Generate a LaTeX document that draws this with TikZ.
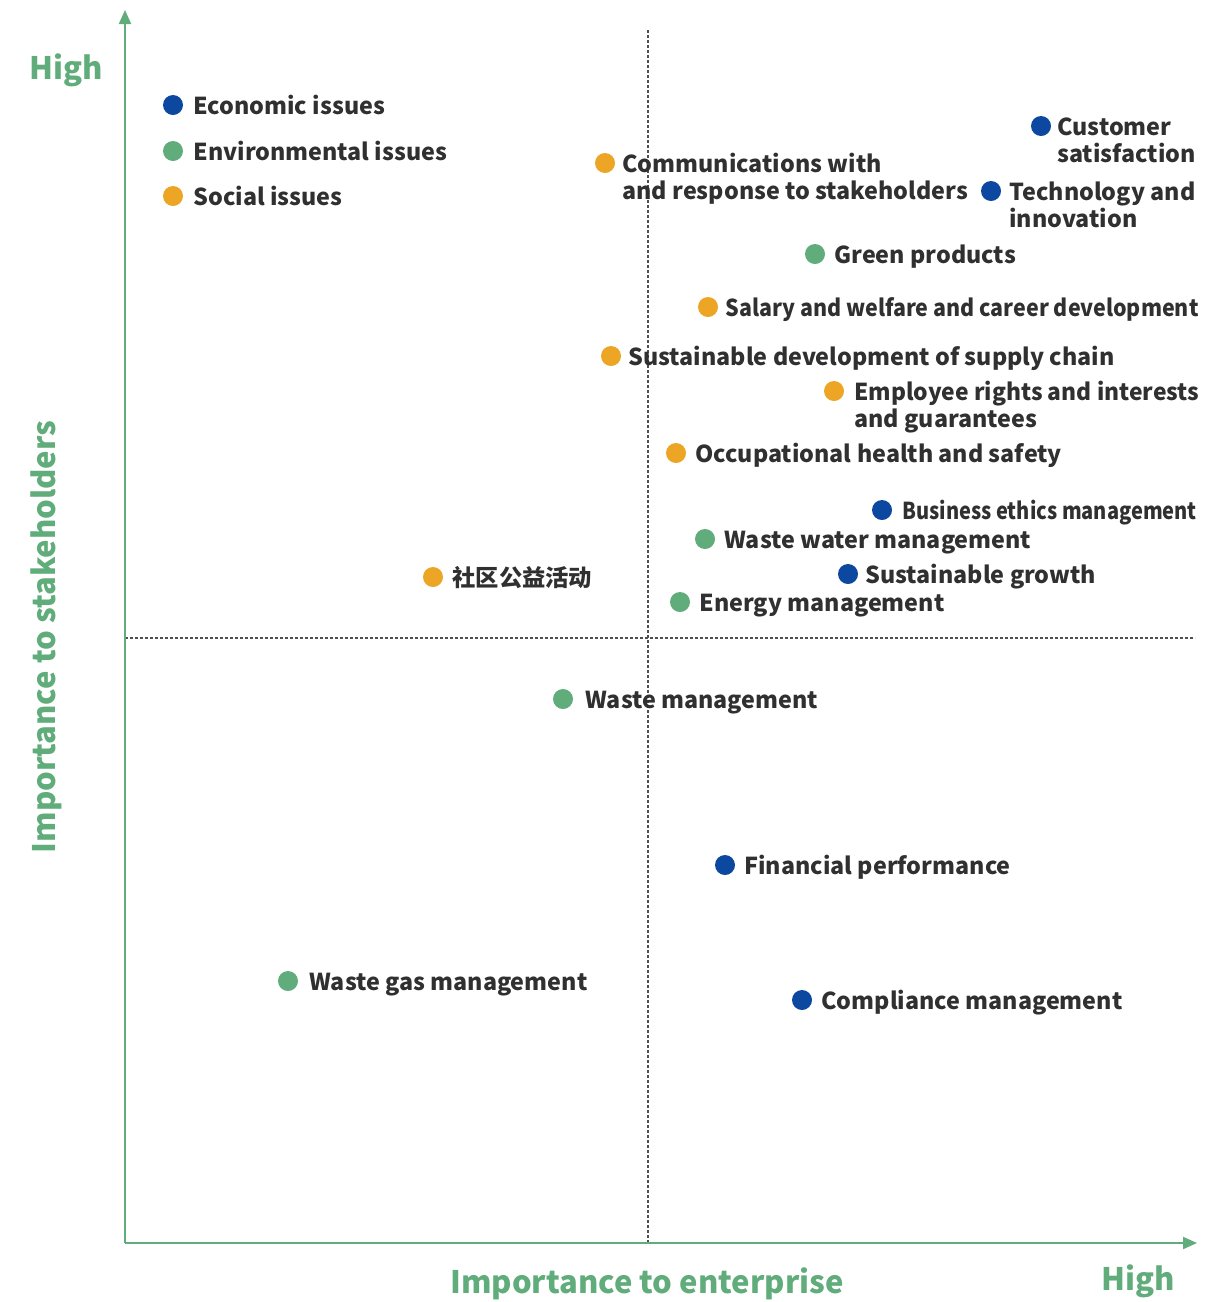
\documentclass[tikz,border=0pt]{standalone}
\usepackage{fontspec}
\setmainfont{Noto Sans CJK SC}
\usetikzlibrary{positioning,arrows.meta}

\definecolor{axisgreen}{RGB}{96,172,122}
\definecolor{ecoblue}{RGB}{12,72,160}
\definecolor{envgreen}{RGB}{96,172,122}
\definecolor{socorange}{RGB}{236,165,36}
\definecolor{labelgray}{RGB}{48,48,48}

\begin{document}
\begin{tikzpicture}
[
    x = 1pt, y = -1pt,
    dot/.style = {circle, minimum size = 20pt, inner sep = 0},
    eco/.style = {dot, fill = ecoblue},
    env/.style = {dot, fill = envgreen},
    soc/.style = {dot, fill = socorange},
    issue/.style = {anchor = west, inner sep = 0, text = labelgray, align = left,
        text height = 17pt, text depth = 5pt, yshift = -3pt,
        font = \fontsize{23.3}{27}\selectfont\bfseries},
    twolines/.style = {text height = 44pt, yshift = -13.5pt},
    axislabel/.style = {text = axisgreen, inner sep = 0, font = \fontsize{31}{36}\selectfont\bfseries},
    axis/.style = {draw = axisgreen, line width = 2pt, -{Triangle[length = 14pt, width = 12pt]}},
    split/.style = {draw = labelgray!85, line width = 1.1pt, dash pattern = on 3pt off 2pt}
]
\useasboundingbox (0,0) rectangle (1229,1302);

% axes and quadrant lines
\coordinate (origin) at (125,1243);
\coordinate (ytop) at (125,10);
\coordinate (xend) at (1197,1243);
\coordinate (vtop) at (648,30);
\coordinate (vbot) at (648,1243);
\coordinate (hleft) at (125,638);
\coordinate (hright) at (1195,638);
\draw [split] (vtop) -- (vbot);
\draw [split] (hleft) -- (hright);
\draw [axis] (origin) -- (ytop);
\draw [axis] (origin) -- (xend);

\node [axislabel] (yhigh) at (66,70) {High};
\node [axislabel, rotate = 90] (ytitle) at (46,637) {Importance to stakeholders};
\node [axislabel] (xtitle) at (647,1284) {Importance to enterprise};
\node [axislabel] (xhigh) at (1138,1281) {High};

% legend
\node [eco] (d-eco) at (173,105) {};
\node [issue, right = 10pt of d-eco] (l-eco) {Economic issues};
\node [env] (d-env) at (173,151) {};
\node [issue, right = 10pt of d-env] (l-env) {Environmental issues};
\node [soc] (d-soc) at (173,196) {};
\node [issue, right = 10pt of d-soc] (l-soc) {Social issues};

% issues
\node [eco] (d-cust) at (1041,126) {};
\node [issue, twolines, right = 6pt of d-cust] (l-cust) {Customer\\satisfaction};
\node [soc] (d-comm) at (605,163) {};
\node [issue, twolines, right = 7pt of d-comm] (l-comm) {Communications with\\and response to stakeholders};
\node [eco] (d-tech) at (991,191) {};
\node [issue, twolines, right = 8pt of d-tech] (l-tech) {Technology and\\innovation};
\node [env] (d-green) at (815,254) {};
\node [issue, right = 9pt of d-green] (l-green) {Green products};
\node [soc] (d-salary) at (708,307) {};
\node [issue, right = 7pt of d-salary] (l-salary) {\scalebox{0.92}[1]{Salary and welfare and career development}};
\node [soc] (d-supply) at (611,356) {};
\node [issue, right = 7pt of d-supply] (l-supply) {Sustainable development of supply chain};
\node [soc] (d-rights) at (834,391) {};
\node [issue, twolines, right = 10pt of d-rights] (l-rights) {\scalebox{0.98}[1]{Employee rights and interests}\\and guarantees};
\node [soc] (d-health) at (676,453) {};
\node [issue, right = 9pt of d-health] (l-health) {Occupational health and safety};
\node [eco] (d-ethics) at (882,510) {};
\node [issue, right = 10pt of d-ethics] (l-ethics) {\scalebox{0.86}[1]{Business ethics management}};
\node [env] (d-water) at (705,539) {};
\node [issue, right = 9pt of d-water] (l-water) {Waste water management};
\node [soc] (d-community) at (433,577) {};
\node [issue, right = 9pt of d-community] (l-community) {社区公益活动};
\node [eco] (d-growth) at (848,574) {};
\node [issue, right = 7pt of d-growth] (l-growth) {Sustainable growth};
\node [env] (d-energy) at (680,602) {};
\node [issue, right = 9pt of d-energy] (l-energy) {Energy management};
\node [env] (d-waste) at (563,699) {};
\node [issue, right = 12pt of d-waste] (l-waste) {Waste management};
\node [eco] (d-finance) at (725,865) {};
\node [issue, right = 9pt of d-finance] (l-finance) {Financial performance};
\node [env] (d-gas) at (288,981) {};
\node [issue, right = 11pt of d-gas] (l-gas) {Waste gas management};
\node [eco] (d-comply) at (802,1000) {};
\node [issue, right = 9pt of d-comply] (l-comply) {Compliance management};

\end{tikzpicture}
\end{document}
